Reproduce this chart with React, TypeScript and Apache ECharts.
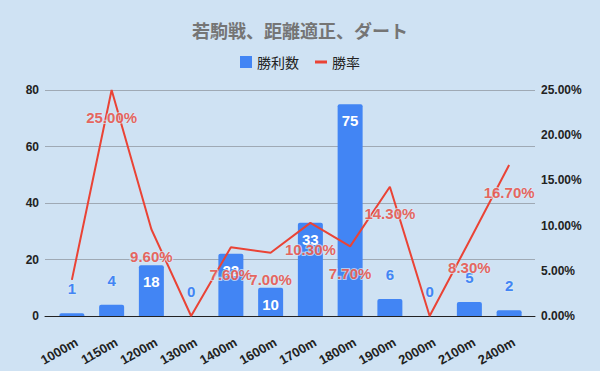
import React, { useEffect, useRef } from 'react';
import * as echarts from 'echarts';

const chartTitle = '若駒戦、距離適正、ダート';
const seriesNames = ['勝利数', '勝率'];
const categories = ['1000m', '1150m', '1200m', '1300m', '1400m', '1600m', '1700m', '1800m', '1900m', '2000m', '2100m', '2400m'];
const wins = [1, 4, 18, 0, 22, 10, 33, 75, 6, 0, 5, 2];
const winRates = [4.0, 25.0, 9.6, 0, 7.6, 7.0, 10.3, 7.7, 14.3, 0, 8.3, 16.7];
const hiddenRateLabels = ['1000m', '1300m', '2000m'];
const leftAxisTicks = [0, 20, 40, 60, 80];
const rightAxisTicks = [0, 5, 10, 15, 20, 25];

const BG = '#cfe2f3';
const BLUE = '#4285F4';
const RED = '#EA4335';
const TXT = '#222222';
const LABEL_FONT = '"Liberation Sans", Arial, sans-serif';
const CJK_FONT = '"Noto Sans CJK JP", "Noto Sans", sans-serif';

export default function App() {
  const ref = useRef<HTMLDivElement>(null);

  useEffect(() => {
    if (!ref.current) return;
    const chart = echarts.init(ref.current, undefined, { renderer: 'svg' });

    const gridTop = 90;
    const gridBottom = 55;
    const leftMin = leftAxisTicks[0];
    const leftMax = leftAxisTicks[leftAxisTicks.length - 1];
    const leftInterval = leftAxisTicks[1] - leftAxisTicks[0];
    const rightMin = rightAxisTicks[0];
    const rightMax = rightAxisTicks[rightAxisTicks.length - 1];
    const rightInterval = rightAxisTicks[1] - rightAxisTicks[0];

    const barLabelCommon = {
      show: true,
      fontSize: 15,
      fontWeight: 'bold' as const,
      fontFamily: LABEL_FONT,
      textBorderColor: 'rgba(215,232,246,0.9)',
      textBorderWidth: 2,
    };

    const option: any = {
      animation: false,
      backgroundColor: BG,
      title: {
        text: chartTitle,
        left: 'center',
        top: 16,
        textStyle: {
          fontSize: 18,
          fontWeight: 'bold',
          color: '#757575',
          fontFamily: CJK_FONT,
        },
      },
      legend: {
        data: [
          { name: seriesNames[0], icon: 'rect' },
          { name: seriesNames[1], icon: 'path://M0,0 L12,0 L12,3 L0,3 Z' },
        ],
        top: 50,
        left: 'center',
        itemWidth: 12,
        itemHeight: 12,
        itemGap: 16,
        symbolKeepAspect: true,
        textStyle: { fontSize: 14, color: TXT, fontFamily: CJK_FONT },
      },
      grid: [
        { left: 45, right: 65, top: gridTop, bottom: gridBottom },
        { left: 52, right: 71, top: gridTop, bottom: gridBottom },
        { left: 57, right: 66, top: gridTop, bottom: gridBottom },
      ],
      xAxis: [
        {
          type: 'category',
          gridIndex: 0,
          data: categories,
          axisLine: { show: true, lineStyle: { color: TXT, width: 1 } },
          axisTick: { show: false },
          axisLabel: { show: false },
          splitLine: { show: false },
        },
        {
          type: 'category',
          gridIndex: 1,
          data: categories,
          show: false,
        },
        {
          type: 'category',
          gridIndex: 2,
          data: categories,
          axisLine: { show: false },
          axisTick: { show: false },
          splitLine: { show: false },
          axisLabel: {
            interval: 0,
            rotate: 30,
            margin: 25,
            fontSize: 13,
            fontWeight: 'bold',
            color: TXT,
            fontFamily: LABEL_FONT,
          },
        },
      ],
      yAxis: [
        {
          type: 'value',
          gridIndex: 0,
          position: 'left',
          min: leftMin,
          max: leftMax,
          interval: leftInterval,
          axisLine: { show: false },
          axisTick: { show: false },
          axisLabel: {
            margin: 6,
            fontSize: 12,
            fontWeight: 'bold',
            color: TXT,
            fontFamily: LABEL_FONT,
          },
          splitLine: { show: true, lineStyle: { color: '#9fa9b4', width: 1 } },
        },
        {
          type: 'value',
          gridIndex: 1,
          position: 'left',
          min: leftMin,
          max: leftMax,
          interval: leftInterval,
          show: false,
          splitLine: { show: false },
        },
        {
          type: 'value',
          gridIndex: 1,
          position: 'right',
          min: rightMin,
          max: rightMax,
          interval: rightInterval,
          axisLine: { show: false },
          axisTick: { show: false },
          splitLine: { show: false },
          axisLabel: {
            margin: 12,
            fontSize: 12,
            fontWeight: 'bold',
            color: TXT,
            fontFamily: LABEL_FONT,
            formatter: (v: number) => `${v.toFixed(2)}%`,
          },
        },
        {
          type: 'value',
          gridIndex: 2,
          min: leftMin,
          max: leftMax,
          show: false,
          splitLine: { show: false },
        },
      ],
      series: [
        {
          name: seriesNames[0],
          type: 'bar',
          xAxisIndex: 1,
          yAxisIndex: 1,
          barWidth: 25,
          itemStyle: { color: BLUE, borderRadius: [2, 2, 0, 0] },
          data: wins.map((v) => ({
            value: v,
            label:
              v >= 10
                ? { ...barLabelCommon, position: 'insideTop', distance: 9, color: '#ffffff', textBorderWidth: 0 }
                : { ...barLabelCommon, position: 'top', distance: 17, color: BLUE },
          })),
          z: 2,
        },
        {
          name: seriesNames[1],
          type: 'line',
          xAxisIndex: 1,
          yAxisIndex: 2,
          symbol: 'none',
          lineStyle: { color: RED, width: 2 },
          itemStyle: { color: RED },
          data: winRates,
          z: 3,
        },
        {
          name: 'rateLabels',
          type: 'scatter',
          xAxisIndex: 1,
          yAxisIndex: 2,
          symbolSize: 1,
          silent: true,
          itemStyle: { color: 'rgba(0,0,0,0)' },
          z: 5,
          label: {
            show: true,
            position: 'bottom',
            distance: 19,
            color: RED,
            fontSize: 15,
            fontWeight: 'bold',
            fontFamily: LABEL_FONT,
            textBorderColor: 'rgba(215,232,246,0.9)',
            textBorderWidth: 2,
            formatter: (p: any) => `${Number(p.value).toFixed(2)}%`,
          },
          data: winRates.map((v, i) => ({
            value: v,
            label: { show: !hiddenRateLabels.includes(categories[i]) },
          })),
        },
      ],
    };

    chart.setOption(option);
    return () => chart.dispose();
  }, []);

  return (
    <div
      ref={ref}
      style={{ position: 'fixed', left: 0, top: 0, width: 600, height: 371, background: BG }}
    />
  );
}
